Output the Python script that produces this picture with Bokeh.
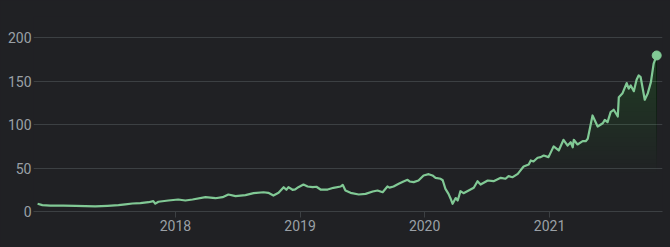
import numpy as np
import pandas as pd
from bokeh.plotting import figure
from bokeh.models import Range1d, FixedTicker, DatetimeTickFormatter
from bokeh.embed import file_html
from bokeh.resources import INLINE

dates = [
    "2016-11-23", "2016-12-07", "2016-12-30", "2017-02-07", "2017-03-14", "2017-04-12",
    "2017-05-11", "2017-06-16", "2017-07-18", "2017-08-07", "2017-08-28", "2017-09-20",
    "2017-10-14", "2017-10-28", "2017-11-03", "2017-11-12", "2017-12-11", "2018-01-09",
    "2018-01-30", "2018-02-20", "2018-03-30", "2018-04-28", "2018-05-19", "2018-06-05",
    "2018-06-26", "2018-07-25", "2018-08-18", "2018-09-16", "2018-09-30", "2018-10-15",
    "2018-10-30", "2018-11-14", "2018-11-22", "2018-11-28", "2018-12-10", "2018-12-18",
    "2018-12-27", "2019-01-11", "2019-01-23", "2019-02-07", "2019-02-18", "2019-03-02",
    "2019-03-23", "2019-04-09", "2019-04-30", "2019-05-06", "2019-05-14", "2019-05-29",
    "2019-06-22", "2019-07-12", "2019-08-02", "2019-08-16", "2019-08-31", "2019-09-14",
    "2019-09-20", "2019-10-02", "2019-10-17", "2019-10-31", "2019-11-12", "2019-11-18",
    "2019-11-30", "2019-12-14", "2019-12-29", "2020-01-13", "2020-01-24", "2020-02-02",
    "2020-02-17", "2020-02-23", "2020-03-02", "2020-03-11", "2020-03-17", "2020-03-23",
    "2020-04-01", "2020-04-07", "2020-04-15", "2020-04-24", "2020-05-09", "2020-05-24",
    "2020-06-04", "2020-06-13", "2020-07-04", "2020-07-21", "2020-08-11", "2020-08-25",
    "2020-09-03", "2020-09-15", "2020-09-30", "2020-10-17", "2020-11-01", "2020-11-07",
    "2020-11-15", "2020-11-27", "2020-12-06", "2020-12-15", "2020-12-29", "2021-01-13",
    "2021-01-28", "2021-02-11", "2021-02-23", "2021-03-04", "2021-03-10", "2021-03-13",
    "2021-03-24", "2021-04-08", "2021-04-17", "2021-04-23", "2021-05-07", "2021-05-22",
    "2021-06-06", "2021-06-12", "2021-06-20", "2021-06-29", "2021-07-08", "2021-07-20",
    "2021-07-23", "2021-08-03", "2021-08-15", "2021-08-21", "2021-08-27", "2021-09-05",
    "2021-09-13", "2021-09-19", "2021-09-25", "2021-10-07", "2021-10-16", "2021-10-25",
    "2021-11-02", "2021-11-11",
]
values = [
    8.9, 7.4, 6.8, 6.8, 6.4, 6.1,
    5.8, 6.5, 7.3, 8.3, 9.2, 9.7,
    10.7, 11.9, 9.0, 11.2, 12.7, 13.8,
    12.7, 13.8, 16.5, 15.3, 16.5, 19.6,
    17.7, 18.8, 21.1, 22.2, 21.5, 18.4,
    21.5, 28.0, 25.0, 28.0, 25.0, 25.5,
    28.0, 31.1, 28.8, 28.0, 28.5, 25.3,
    25.3, 27.3, 28.8, 30.7, 24.2, 21.5,
    19.6, 20.3, 23.0, 24.2, 22.2, 28.8,
    27.5, 28.8, 31.9, 34.6, 36.5, 34.6,
    33.8, 35.7, 41.5, 43.0, 41.5, 38.8,
    37.7, 36.0, 26.1, 20.3, 15.0, 8.9,
    15.5, 12.7, 23.4, 21.1, 24.2, 27.3,
    34.9, 31.1, 35.7, 34.9, 38.8, 37.7,
    40.7, 39.5, 43.4, 51.8, 54.1, 58.8,
    57.6, 61.9, 62.6, 64.5, 62.6, 75.0,
    70.3, 82.6, 76.0, 79.8, 74.0, 82.6,
    77.2, 81.0, 81.0, 83.8, 110.6, 97.9,
    101.7, 105.6, 102.9, 114.4, 117.2, 109.4,
    131.7, 136.3, 147.9, 141.4, 145.2, 138.6,
    151.7, 156.7, 154.7, 128.7, 136.3, 149.0,
    170.2, 179.7,
]
y_ticks = [0, 50, 100, 150, 200]
year_ticks = ["2018-01-01", "2019-01-01", "2020-01-01", "2021-01-01"]

BG = "#202124"
GRID = "#3c4043"
LABEL = "#9aa0a6"
GREEN = "#81c995"

x = pd.to_datetime(dates)
v = np.array(values)

p = figure(width=670, height=247, x_axis_type="datetime",
           output_backend="svg", toolbar_location=None,
           x_range=Range1d(pd.Timestamp("2016-11-11"), pd.Timestamp("2021-11-28")),
           y_range=Range1d(0, 224.6),
           min_border_left=33, min_border_right=8,
           min_border_top=16, min_border_bottom=36)
p.background_fill_color = BG
p.border_fill_color = BG
p.outline_line_color = None
p.styles = {"background-color": BG}

# vertical gradient under the line, built from stacked translucent layers
levels = np.arange(45, 185, 5)
for lo in levels:
    p.varea(x=x, y1=lo, y2=np.maximum(v, lo), fill_color=GREEN, fill_alpha=0.009)

p.line(x, v, line_color=GREEN, line_width=2.2, line_join="round")
p.scatter(x=[x[-1]], y=[v[-1]], size=9, color=GREEN)

p.xgrid.grid_line_color = None
p.ygrid.ticker = FixedTicker(ticks=y_ticks)
p.ygrid.grid_line_color = GRID
p.ygrid.grid_line_width = 1

p.yaxis.ticker = FixedTicker(ticks=y_ticks)
p.yaxis.axis_line_color = None
p.yaxis.major_tick_line_color = None
p.yaxis.minor_tick_line_color = None
p.yaxis.major_tick_out = 0
p.yaxis.major_tick_in = 0
p.yaxis.major_label_standoff = 2

tick_ms = [pd.Timestamp(t).value / 1e6 for t in year_ticks]
p.xaxis.ticker = FixedTicker(ticks=tick_ms)
p.xaxis.formatter = DatetimeTickFormatter(years="%Y", months="%Y", days="%Y",
                                          hours="%Y", minutes="%Y", seconds="%Y",
                                          milliseconds="%Y", microseconds="%Y")
p.xaxis.axis_line_color = GRID
p.xaxis.major_tick_line_color = GRID
p.xaxis.minor_tick_line_color = None
p.xaxis.major_tick_out = 6
p.xaxis.major_tick_in = 0
p.xaxis.major_label_standoff = 2

for ax in (p.xaxis[0], p.yaxis[0]):
    ax.major_label_text_color = LABEL
    ax.major_label_text_font = "Roboto"
    ax.major_label_text_font_size = "14px"

open("out.html", "w").write(file_html(p, INLINE))
